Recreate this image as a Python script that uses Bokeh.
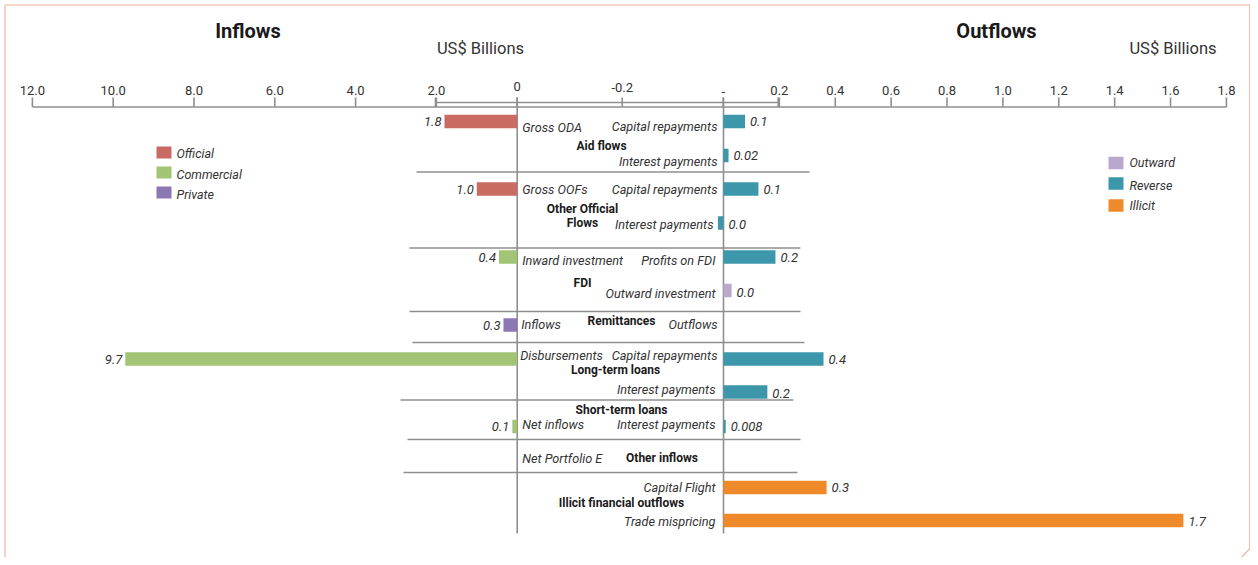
from bokeh.plotting import figure
from bokeh.models import Range1d, ColumnDataSource
from bokeh.core.properties import value
from bokeh.embed import file_html
from bokeh.resources import INLINE

# ---------------- data ----------------
in_labels = ["Gross ODA", "Gross OOFs", "Inward investment", "Inflows",
             "Disbursements", "Net inflows", "Net Portfolio E"]
in_values = [1.8, 1.0, 0.45, 0.34, 9.7, 0.12, 0.0]
in_types = ["Official", "Official", "Commercial", "Private",
            "Commercial", "Commercial", "Commercial"]
in_texts = ["1.8", "1.0", "0.4", "0.3", "9.7", "0.1", ""]

out_labels = ["Capital repayments", "Interest payments", "Capital repayments",
              "Interest payments", "Profits on FDI", "Outward investment",
              "Outflows", "Capital repayments", "Interest payments",
              "Interest payments", "Capital Flight", "Trade mispricing"]
out_values = [0.077, 0.018, 0.125, -0.02, 0.186, 0.029, 0.0,
              0.358, 0.157, 0.008, 0.369, 1.646]
out_types = ["Reverse", "Reverse", "Reverse", "Reverse", "Reverse", "Outward",
             "Reverse", "Reverse", "Reverse", "Reverse", "Illicit", "Illicit"]
out_texts = ["0.1", "0.02", "0.1", "0.0", "0.2", "0.0", "",
             "0.4", "0.2", "0.008", "0.3", "1.7"]

groups = ["Aid flows", "Other Official", "Flows", "FDI", "Remittances",
          "Long-term loans", "Short-term loans", "Other inflows",
          "Illicit financial outflows"]

in_legend = ["Official", "Commercial", "Private"]
out_legend = ["Outward", "Reverse", "Illicit"]

left_ticks = [12, 10, 8, 6, 4, 2, 0]
left_tick_labels = ["12.0", "10.0", "8.0", "6.0", "4.0", "2.0", "0"]
right_ticks = [0, 0.2, 0.4, 0.6, 0.8, 1.0, 1.2, 1.4, 1.6, 1.8]
right_tick_labels = ["-", "0.2", "0.4", "0.6", "0.8", "1.0", "1.2", "1.4", "1.6", "1.8"]
mid_tick_labels = ["2.0", "0", "-0.2", "-", "0.2"]

# ---------------- style / layout ----------------
colors = {"Official": "#C96A63", "Commercial": "#A1C475", "Private": "#8B77B3",
          "Outward": "#B9A8CB", "Reverse": "#3C97AB", "Illicit": "#EF8A2A"}
FONT = "Roboto"
GRAY = "#8f8f8f"
TXT = "#333333"
CAT_FS = "12.7px"

W, H = 1250, 557
X0, X1 = 0, W             # screen extent of the canvas
Y0, Y1 = 0, H
ZL, SL = 516.7, 40.4      # left zero pixel, px per unit
ZR, SR = 723.0, 279.4     # right zero pixel, px per unit

# row layout (pixel y)
in_bar_y = [121, 188.5, 256.5, 324.5, 358.5, 426, 458]
in_lab_y = [127, 188.5, 259.5, 323.5, 354.5, 423.5, 458]
in_lab_dx = [5, 5, 5, 4, 3, 5, 5]
out_bar_y = [121, 155, 188.5, 222.5, 256.5, 290, 323.5, 358.5, 391.5, 426, 487, 520]
out_lab_y = [126, 161, 188.5, 223.5, 259.5, 293, 323.5, 354.5, 388.5, 423.5, 487, 521]
out_val_y = [121, 155, 189, 224, 257, 292, 323.5, 359, 393, 426, 487, 521]
out_lab_dx = [-6, -6, -6, -10, -8, -8, -6, -6, -8, -8, -8, -8]
group_xy = [(601, 145), (582, 208), (582, 222), (582, 282), (621, 320),
            (615, 369.5), (621, 409), (661.5, 457.5), (621, 502)]
separators = [(416, 809, 171.5), (409, 800, 247.5), (409, 800, 311),
              (412, 804, 342), (400, 793, 399.5), (407, 800, 439), (403, 797, 472)]
BAR_H = 13.5

p = figure(width=W, height=H, output_backend="svg", toolbar_location=None,
           x_range=Range1d((ZL - X0) / SL, (ZL - X1) / SL),
           y_range=Range1d(Y1, Y0),
           x_axis_type=None, y_axis_type=None,
           min_border=0, outline_line_color=None)
p.grid.visible = False
p.extra_x_ranges = {"out": Range1d((X0 - ZR) / SR, (X1 - ZR) / SR),
                    "px": Range1d(X0, X1)}

# ---------------- frame border ----------------
BC = "#F2B19C"
p.line(x=[4.5, 4.5], y=[557, 4.5], x_range_name="px", line_color=BC, line_width=1.2)
p.line(x=[4.5, 1249.3, 1249.3, 1241], y=[4.5, 4.5, 548, 557], x_range_name="px",
       line_color=BC, line_width=1.2)

# ---------------- axes ----------------
AX_Y = 106.5
p.segment(x0=[32], y0=[AX_Y], x1=[1226], y1=[AX_Y], x_range_name="px",
          line_color=GRAY, line_width=1.6)
p.segment(x0=[435], y0=[102], x1=[778], y1=[102], x_range_name="px",
          line_color=GRAY, line_width=1.6)
# left ticks
p.segment(x0=left_ticks, y0=[AX_Y] * len(left_ticks), x1=left_ticks, y1=[97] * len(left_ticks),
          line_color=GRAY, line_width=1.6)
p.text(x=left_ticks[:-1], y=[90] * (len(left_ticks) - 1), text=left_tick_labels[:-1],
       text_font=value(FONT), text_font_size="13px", text_color=TXT,
       text_align="center", text_baseline="middle")
# right ticks
p.segment(x0=right_ticks, y0=[AX_Y] * len(right_ticks), x1=right_ticks, y1=[97] * len(right_ticks),
          x_range_name="out", line_color=GRAY, line_width=1.6)
p.text(x=right_ticks[1:], y=[90] * (len(right_ticks) - 1), text=right_tick_labels[1:],
       x_range_name="out",
       text_font=value(FONT), text_font_size="13px", text_color=TXT,
       text_align="center", text_baseline="middle")
# middle (secondary) axis ticks
mid_x = [435, 516.7, 621.7, 722.7, 777.7]
p.segment(x0=mid_x, y0=[AX_Y] * 5, x1=mid_x, y1=[97] * 5, x_range_name="px",
          line_color=GRAY, line_width=1.6)
p.text(x=mid_x[1:4], y=[86, 87, 91], text=mid_tick_labels[1:4], x_range_name="px",
       text_font=value(FONT), text_font_size="13px", text_color=TXT,
       text_align="center", text_baseline="middle")

# zero lines
p.segment(x0=[0], y0=[AX_Y], x1=[0], y1=[533], line_color=GRAY, line_width=1.6)
p.segment(x0=[0], y0=[AX_Y], x1=[0], y1=[533], x_range_name="out",
          line_color=GRAY, line_width=1.6)

# separators
p.segment(x0=[s[0] for s in separators], x1=[s[1] for s in separators],
          y0=[s[2] for s in separators], y1=[s[2] for s in separators],
          x_range_name="px", line_color=GRAY, line_width=1.6)

# ---------------- bars ----------------
in_src = ColumnDataSource(dict(
    left=in_values, right=[0] * len(in_values), y=in_bar_y,
    color=[colors[t] for t in in_types], label=in_labels, ly=in_lab_y,
    vtext=in_texts, dx=in_lab_dx))
p.hbar(y="y", left="left", right="right", height=BAR_H, fill_color="color",
       line_color=None, source=in_src)
p.text(x="left", y="y", text="vtext", source=in_src, x_offset=-3,
       text_font=value(FONT), text_font_style="italic", text_font_size="13px",
       text_color=TXT, text_align="right", text_baseline="middle")
p.text(x="right", y="ly", text="label", source=in_src, x_offset="dx",
       text_font=value(FONT), text_font_style="italic", text_font_size=CAT_FS,
       text_color=TXT, text_align="left", text_baseline="middle")

out_src = ColumnDataSource(dict(
    left=[0] * len(out_values), right=out_values, y=out_bar_y,
    vx=[max(v, 0) for v in out_values],
    color=[colors[t] for t in out_types], label=out_labels, ly=out_lab_y,
    vy=out_val_y, vtext=out_texts, dx=out_lab_dx))
p.hbar(y="y", left="left", right="right", height=BAR_H, fill_color="color",
       line_color=None, source=out_src, x_range_name="out")
p.text(x="vx", y="vy", text="vtext", source=out_src, x_offset=5, x_range_name="out",
       text_font=value(FONT), text_font_style="italic", text_font_size="13px",
       text_color=TXT, text_align="left", text_baseline="middle")
p.text(x="left", y="ly", text="label", source=out_src, x_offset="dx", x_range_name="out",
       text_font=value(FONT), text_font_style="italic", text_font_size=CAT_FS,
       text_color=TXT, text_align="right", text_baseline="middle")

# group labels
p.text(x=[g[0] for g in group_xy], y=[g[1] for g in group_xy], text=groups,
       x_range_name="px", text_font=value(FONT), text_font_style="bold",
       text_font_size="12px", text_color="#1a1a1a", text_align="center",
       text_baseline="middle")

# ---------------- titles ----------------
p.text(x=[247.5, 996], y=[30, 30], text=["Inflows", "Outflows"], x_range_name="px",
       text_font=value(FONT), text_font_style="bold", text_font_size="20px",
       text_color="#1a1a1a", text_align="center", text_baseline="middle")
p.text(x=[480, 1172.5], y=[47.5, 47.5], text=["US$ Billions", "US$ Billions"], x_range_name="px",
       text_font=value(FONT), text_font_size="16.5px",
       text_color=TXT, text_align="center", text_baseline="middle")

# ---------------- legends ----------------
leg_l_y = [152, 172, 192]
p.rect(x=[163.5] * 3, y=leg_l_y, width=15, height=12, x_range_name="px",
       fill_color=[colors[k] for k in in_legend], line_color=None)
p.text(x=[176] * 3, y=[153, 174, 194], text=in_legend, x_range_name="px",
       text_font=value(FONT), text_font_style="italic", text_font_size="12.5px",
       text_color=TXT, text_align="left", text_baseline="middle")
leg_r_y = [162.5, 183, 205]
p.rect(x=[1115.5] * 3, y=leg_r_y, width=15, height=12.5, x_range_name="px",
       fill_color=[colors[k] for k in out_legend], line_color=None)
p.text(x=[1129] * 3, y=[162, 185, 205], text=out_legend, x_range_name="px",
       text_font=value(FONT), text_font_style="italic", text_font_size="12.5px",
       text_color=TXT, text_align="left", text_baseline="middle")

open("out.html", "w").write(file_html(p, INLINE))
